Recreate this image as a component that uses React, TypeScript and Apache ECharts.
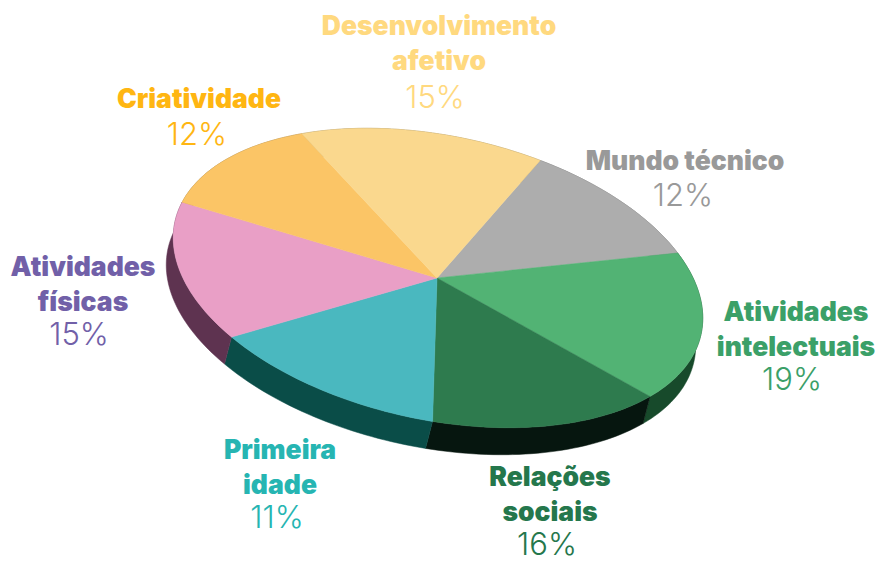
import React, { useEffect, useRef } from "react";
import * as echarts from "echarts";

// Slices clockwise, starting at the Mundo técnico / Desenvolvimento boundary
const categories = ["Mundo técnico", "Atividades\nintelectuais", "Relações\nsociais", "Primeira\nidade", "Atividades\nfísicas", "Criatividade", "Desenvolvimento\nafetivo"];
const percents = [12, 19, 16, 11, 15, 12, 15];
// The picture's wedges are not drawn in proportion to their printed percents: share of the circle as drawn
const drawnShares = [11.7, 17.2, 15.1, 13.9, 14.9, 12.25, 14.9];
const topColors = ["#ADADAD", "#52B374", "#2E7B4E", "#4AB8BF", "#E99FC6", "#FBC566", "#FAD88E"];
const sideColors = ["#666666", "#174A2B", "#06160F", "#0A4D48", "#5E3350", "#8A7040", "#8A7A50"];
const textColors = ["#999999", "#3BA068", "#25774C", "#26B5B2", "#7160A8", "#FFB612", "#FFD97F"];

// Layout of the tilted disc, in pixels
const CX = 438, CY = 278, RA = 269, RB = 142, TILT = (12 * Math.PI) / 180;
const DEPTH_X = -7, DEPTH_Y = 27;
const START_DEG = -73.7;
const nameAnchors = [[685, 160], [796, 328], [550, 493], [280, 466], [83, 283], [199, 98], [439, 42]];
const pctAnchors = [[683, 194], [792, 378], [547, 543], [277, 516], [79, 333], [197, 133], [435, 96]];

const project = (deg: number, ox = 0, oy = 0) => {
  const t = (deg * Math.PI) / 180;
  const u = RA * Math.cos(t), v = RB * Math.sin(t);
  return [CX + ox + u * Math.cos(TILT) - v * Math.sin(TILT), CY + oy + u * Math.sin(TILT) + v * Math.cos(TILT)];
};
const arc = (a0: number, a1: number, ox = 0, oy = 0) => {
  const n = Math.max(2, Math.ceil(Math.abs(a1 - a0) / 1.5));
  const pts: number[][] = [];
  for (let i = 0; i <= n; i++) pts.push(project(a0 + ((a1 - a0) * i) / n, ox, oy));
  return pts;
};

const total = drawnShares.reduce((s, v) => s + v, 0);
let cursor = START_DEG;
const sliceData = categories.map((name, i) => {
  const a0 = cursor;
  cursor += (drawnShares[i] / total) * 360;
  return { name, value: [a0, cursor, percents[i]] };
});

export default function App() {
  const ref = useRef<HTMLDivElement>(null);
  useEffect(() => {
    document.body.style.margin = "0";
    const chart = echarts.init(ref.current!, null, { renderer: "svg" });
    const texts: any[] = [];
    categories.forEach((name, i) => {
      texts.push({
        type: "text", x: nameAnchors[i][0], y: nameAnchors[i][1], silent: true,
        style: { text: name, fill: textColors[i], font: '900 26.5px Inter', lineHeight: 35, textAlign: "center", textVerticalAlign: "middle" },
      });
      texts.push({
        type: "text", x: pctAnchors[i][0], y: pctAnchors[i][1], silent: true,
        style: { text: percents[i] + "%", fill: textColors[i], font: '300 31px Inter', textAlign: "center", textVerticalAlign: "middle" },
      });
    });
    chart.setOption({
      animation: false,
      backgroundColor: "#ffffff",
      graphic: texts,
      series: [
        {
          type: "custom", coordinateSystem: "none", z: 1, silent: true,
          data: sliceData,
          renderItem: (p: any, api: any) => {
            const a0 = api.value(0), a1 = api.value(1);
            const pts = [...arc(a0, a1), ...arc(a0, a1, DEPTH_X, DEPTH_Y).reverse()];
            return { type: "polygon", shape: { points: pts }, style: { fill: sideColors[p.dataIndex], stroke: sideColors[p.dataIndex], lineWidth: 0.5 } };
          },
        },
        {
          type: "custom", coordinateSystem: "none", z: 2, silent: true,
          data: sliceData,
          renderItem: (p: any, api: any) => {
            const a0 = api.value(0), a1 = api.value(1);
            const pts = [[CX - 1, CY], ...arc(a0, a1)];
            return { type: "polygon", shape: { points: pts }, style: { fill: topColors[p.dataIndex], stroke: topColors[p.dataIndex], lineWidth: 0.5 } };
          },
        },
      ],
    });
    return () => chart.dispose();
  }, []);
  return <div ref={ref} style={{ position: "fixed", left: 0, top: 0, width: 878, height: 562 }} />;
}
